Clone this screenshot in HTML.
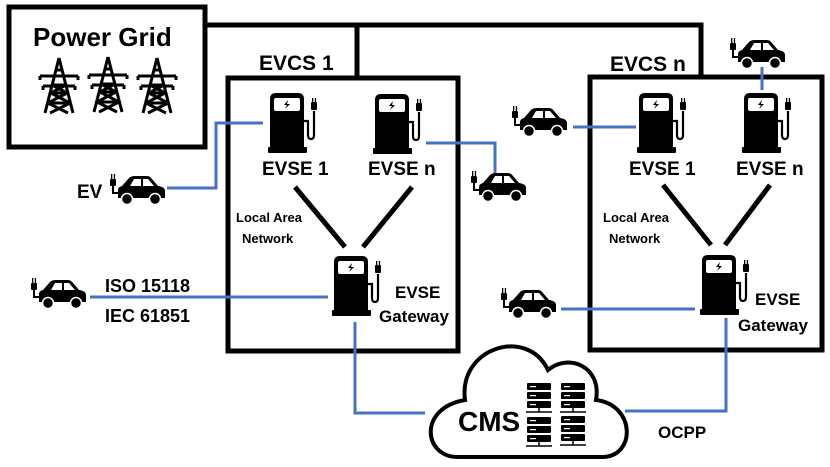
<!DOCTYPE html>
<html><head><meta charset="utf-8"><style>
html,body{margin:0;padding:0;background:#fff}
svg{display:block}
text{font-family:"Liberation Sans",sans-serif;font-weight:bold;fill:#000}
</style></head><body>
<svg width="830" height="467" viewBox="0 0 830 467" xmlns="http://www.w3.org/2000/svg">
<defs>
<g id="pump">
<path d="M2,60 L2,6 Q2,0 8,0 L30,0 Q36,0 36,6 L36,60 Z" fill="#000"/>
<rect x="6" y="5" width="26" height="13" rx="2" fill="#fff"/>
<path d="M20,7 L16,12 L19,12 L17,16 L22,11 L19,11 Z" fill="#000"/>
<rect x="0" y="54" width="39" height="6" rx="1" fill="#000"/>
<path d="M36,28 L40,28 L40,42 Q40,46 43,46 Q46,46 46,42 L46,18" fill="none" stroke="#000" stroke-width="2.2"/>
<rect x="43" y="9" width="6" height="8" rx="1" fill="#000"/>
<rect x="44" y="5" width="1.3" height="5" fill="#000"/>
<rect x="46.8" y="5" width="1.3" height="5" fill="#000"/>
</g>
<g id="car">
<rect x="0" y="5" width="6" height="7" rx="1" fill="#000"/>
<rect x="1" y="0" width="1.3" height="6" fill="#000"/>
<rect x="3.8" y="0" width="1.3" height="6" fill="#000"/>
<path d="M3,12 L3,19 L10,19" fill="none" stroke="#000" stroke-width="2"/>
<path d="M8,24 L8,16 Q8,13 12,12 L19,4 Q21,2 25,2 L37,2 Q40,2 42,5 L48,12 Q55,13 55,17 L55,24 Z" fill="#000"/>
<path d="M20,12 L24,5 L31,5 L31,12 Z M33,12 L33,5 L38,5 L44,12 Z" fill="#fff"/>
<circle cx="17" cy="25" r="5.5" fill="#000" stroke="#fff" stroke-width="1.5"/>
<circle cx="45" cy="25" r="5.5" fill="#000" stroke="#fff" stroke-width="1.5"/>
</g>
<g id="tower" fill="none" stroke="#000" stroke-width="3">
<path d="M19,0 L5,55 M19,0 L33,55 M10,35 L28,35 M7,45 L31,45 M12,27 L26,27 M8,45 L28,55 M30,45 L10,55 M11,35 L30,45 M27,35 L8,45 M12,27 L27,35 M26,27 L11,35"/>
<path d="M0,18 L38,18 M0,18 L0,22 M38,18 L38,22 M3,28 L35,28 M3,28 L3,32 M35,28 L35,32 M15,12 L23,12"/>
</g>
<g id="srv">
<rect x="0" y="0" width="24" height="7" rx="1" fill="#000"/>
<rect x="0" y="9" width="24" height="7" rx="1" fill="#000"/>
<rect x="0" y="18" width="24" height="7" rx="1" fill="#000"/>
<rect x="3" y="3" width="6" height="1.2" fill="#fff"/>
<rect x="3" y="12" width="6" height="1.2" fill="#fff"/>
<rect x="3" y="21" width="6" height="1.2" fill="#fff"/>
<path d="M12,25 L12,29 M-1,29 L25,29" stroke="#000" stroke-width="1.5"/>
</g>
</defs>

<rect x="9" y="7" width="196" height="140" fill="none" stroke="#000" stroke-width="5"/>
<text x="33" y="46" font-size="26">Power Grid</text>
<use href="#tower" x="40" y="58"/>
<use href="#tower" x="89" y="57"/>
<use href="#tower" x="138" y="58"/>

<path d="M205,25 L701,25 L701,77 M357,25 L357,78" fill="none" stroke="#000" stroke-width="5"/>

<rect x="228" y="78" width="230" height="273" fill="none" stroke="#000" stroke-width="5"/>
<rect x="590" y="77" width="232" height="273" fill="none" stroke="#000" stroke-width="5"/>
<text x="259" y="70" font-size="21">EVCS 1</text>
<text x="610" y="71" font-size="21">EVCS n</text>

<g fill="none" stroke="#4472C4" stroke-width="3">
<path d="M167,188 L216,188 L216,123 L263,123"/>
<path d="M426,143 L495,143 L495,173"/>
<path d="M90,297 L328,297"/>
<path d="M355,322 L355,413 L425,413"/>
<path d="M573,127 L636,127"/>
<path d="M762,67 L762,90"/>
<path d="M561,309 L695,309"/>
<path d="M726,318 L726,411 L625,411"/>
</g>

<g stroke="#000" stroke-width="5">
<line x1="295" y1="187" x2="345" y2="247"/>
<line x1="412" y1="187" x2="363" y2="247"/>
<line x1="663" y1="185" x2="711" y2="245"/>
<line x1="770" y1="185" x2="725" y2="245"/>
</g>

<use href="#pump" x="268" y="93"/>
<use href="#pump" x="373" y="94"/>
<use href="#pump" x="332" y="256"/>
<use href="#pump" x="637" y="93"/>
<use href="#pump" x="742" y="93"/>
<use href="#pump" x="700" y="255"/>

<use href="#car" x="110" y="174"/>
<use href="#car" x="471" y="171"/>
<use href="#car" x="730" y="38"/>
<use href="#car" x="512" y="106"/>
<use href="#car" x="31" y="278"/>
<use href="#car" x="501" y="288"/>

<text x="262" y="175" font-size="19">EVSE 1</text>
<text x="368" y="175" font-size="19">EVSE n</text>
<text x="629" y="175" font-size="19">EVSE 1</text>
<text x="736" y="175" font-size="19">EVSE n</text>
<text x="236" y="222" font-size="13">Local Area</text>
<text x="242" y="243" font-size="13">Network</text>
<text x="603" y="222" font-size="13">Local Area</text>
<text x="609" y="243" font-size="13">Network</text>
<text x="395" y="298" font-size="17">EVSE</text>
<text x="379" y="322" font-size="17">Gateway</text>
<text x="755" y="305" font-size="17">EVSE</text>
<text x="738" y="331" font-size="17">Gateway</text>
<text x="105" y="292" font-size="18">ISO 15118</text>
<text x="105" y="322" font-size="18">IEC 61851</text>
<text x="77" y="198" font-size="19">EV</text>
<text x="658" y="438" font-size="17">OCPP</text>

<path d="M458,457 C423,457 418,408 465,400 C458,348 527,326 548,370 C568,353 602,366 596,400 C636,405 636,457 602,457 Z" fill="#fff" stroke="#000" stroke-width="4"/>
<text x="458" y="431" font-size="28">CMS</text>
<use href="#srv" x="527" y="383"/>
<use href="#srv" x="561" y="383"/>
<use href="#srv" x="527" y="417"/>
<use href="#srv" x="561" y="416"/>
</svg>
</body></html>
